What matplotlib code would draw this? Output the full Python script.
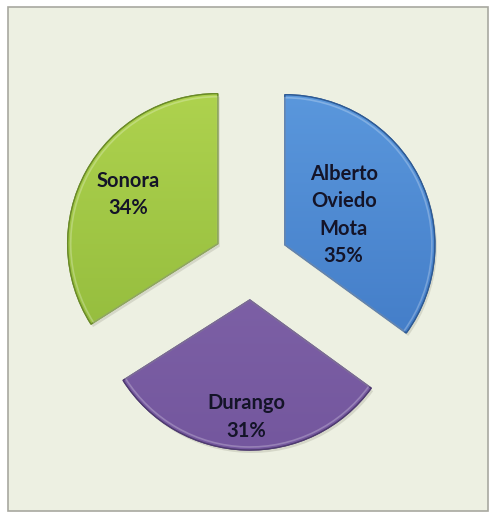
import numpy as np
import matplotlib
matplotlib.use("Agg")
import matplotlib.pyplot as plt
from matplotlib.patches import Rectangle, Wedge
from matplotlib.colors import LinearSegmentedColormap

# ---- data ----
categories = ["Alberto\nOviedo\nMota", "Durango", "Sonora"]
values = [35, 31, 34]

# ---- style ----
top_colors = ["#5a97dc", "#8468ac", "#aed24e"]
bottom_colors = ["#3f78c4", "#74579e", "#8fb83a"]
edge_colors = ["#2e5a94", "#4e3a70", "#6a8a28"]
label_dist = [0.44, 0.78, 0.68]
bg = "#edf0e2"

W, H = 492, 516
fig = plt.figure(figsize=(W / 100, H / 100), dpi=100)
fig.patch.set_facecolor("white")
ax = fig.add_axes([0, 0, 1, 1])

center = (251, H - 262)
radius = 150
explode = [38] * len(values)

wedges, _ = ax.pie(values, startangle=90, counterclock=False, center=center,
                   radius=radius, explode=explode, frame=True,
                   wedgeprops=dict(linewidth=1.0))
ax.set_xlim(0, W)
ax.set_ylim(0, H)
ax.set_aspect("equal")
ax.axis("off")

# chart frame
ax.add_patch(Rectangle((8, 5), 480, 504, facecolor=bg, edgecolor="#a8a8a0",
                       linewidth=1.2, zorder=0))

for i, w in enumerate(wedges):
    cx, cy = w.center
    # soft shadow
    sh = Wedge((cx + 2, cy - 3), w.r, w.theta1, w.theta2, facecolor="#808070",
               edgecolor="none", alpha=0.22, zorder=1)
    ax.add_patch(sh)
    w.set_zorder(2)
    w.set_facecolor(bottom_colors[i])
    w.set_edgecolor(edge_colors[i])
    # gradient fill clipped to wedge
    cmap = LinearSegmentedColormap.from_list("g", [bottom_colors[i], top_colors[i]])
    grad = np.linspace(0, 1, 256).reshape(-1, 1)
    im = ax.imshow(grad, cmap=cmap, origin="lower", aspect="auto",
                   extent=(cx - w.r, cx + w.r, cy - w.r, cy + w.r), zorder=2.5,
                   interpolation="bilinear")
    im.set_clip_path(w)
    # edge on top
    ed = Wedge((cx, cy), w.r, w.theta1, w.theta2, facecolor="none",
               edgecolor=edge_colors[i], linewidth=1.0, zorder=3)
    ax.add_patch(ed)
    # inner highlight (bevel)
    hl = Wedge((cx, cy), w.r - 3, w.theta1, w.theta2, facecolor="none",
               edgecolor="white", linewidth=1.2, alpha=0.25, zorder=3)
    ax.add_patch(hl)
    # label
    tm = np.deg2rad(0.5 * (w.theta1 + w.theta2))
    d = label_dist[i] * w.r
    ax.text(cx + d * np.cos(tm), cy + d * np.sin(tm),
            f"{categories[i]}\n{values[i]}%", ha="center", va="center",
            fontsize=14.5, fontweight="bold", family=["Lato", "DejaVu Sans"],
            color="#141428", linespacing=1.47, zorder=4)

ax.set_xlim(0, W)
ax.set_ylim(0, H)
fig.savefig("out.png", dpi=100, facecolor="white")
